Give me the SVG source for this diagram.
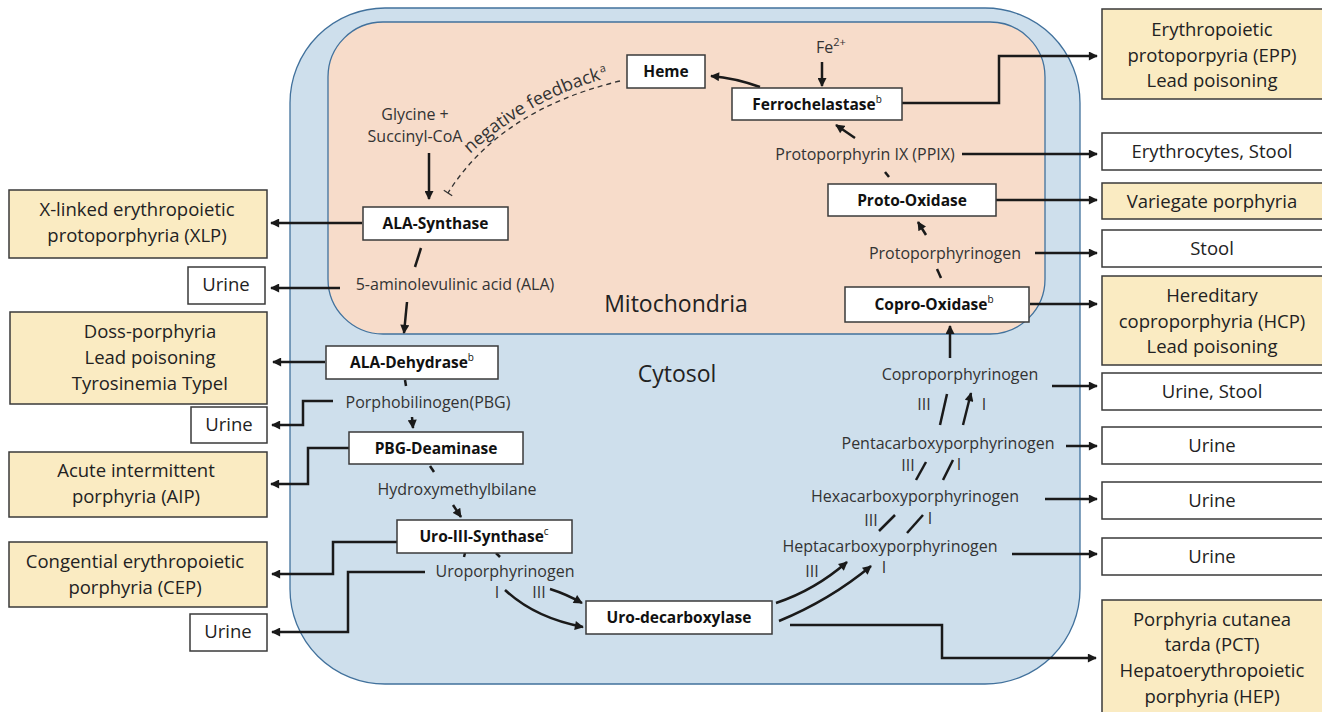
<svg xmlns="http://www.w3.org/2000/svg" width="1322" height="712" viewBox="0 0 1322 712">
<defs>
<style>
.box{fill:#ffffff;stroke:#3a3a3a;stroke-width:1.5}
.ybox{fill:#FAEBC2;stroke:#3a3a3a;stroke-width:1.5}
.node{font-family:"Open Sans","Liberation Sans",sans-serif;font-weight:bold;font-size:15.5px;fill:#111;text-anchor:middle}
.lbl{font-family:"Open Sans","Liberation Sans",sans-serif;font-size:16px;fill:#333;text-anchor:middle}
.out{font-family:"Open Sans","Liberation Sans",sans-serif;font-size:18.5px;fill:#222;text-anchor:middle}
.big{font-family:"Open Sans","Liberation Sans",sans-serif;font-size:23px;fill:#222;text-anchor:middle}
.c{fill:none;stroke:#1a1a1a;stroke-width:2.5}
.a{marker-end:url(#ah)}
.dash{fill:none;stroke:#333;stroke-width:1.3;stroke-dasharray:5 4}
</style>
<marker id="ah" viewBox="0 0 10 10" refX="9" refY="5" markerWidth="10" markerHeight="9" markerUnits="userSpaceOnUse" orient="auto">
<path d="M0,0 L10,5 L0,10 z" fill="#1a1a1a"/>
</marker>
<path id="nfp" d="M470,154 Q535,95 612,77" fill="none"/>
</defs>

<g id="compartments">
<rect id="cytosol" x="290" y="8" width="790" height="676" rx="95" fill="#CEDFEC" stroke="#41719C" stroke-width="1.3"/>
<rect id="mitochondria" x="328" y="22" width="717" height="312" rx="55" fill="#F7DCCA" stroke="#41719C" stroke-width="1.3"/>
<text class="big" x="676" y="312">Mitochondria</text>
<text class="big" x="677" y="382">Cytosol</text>
</g>

<g id="connectors">
<path class="c a" d="M429,153 V199"/>
<path class="dash" d="M620,81 Q500,110 448,193"/>
<path fill="none" stroke="#333" stroke-width="1.3" d="M443.8,190.3 L452.2,195.7"/>
<path class="c" d="M421,248 L415,267"/>
<path class="c a" d="M407,302 L404,333"/>
<path class="c a" d="M362,223 H271"/>
<path class="c a" d="M340,288 H271"/>
<path class="c a" d="M325,362 H273"/>
<path class="c" d="M405,380 L406,386"/>
<path class="c a" d="M333,401 H303 V425 H272"/>
<path class="c a" d="M412,417 L413,428"/>
<path class="c a" d="M349,448 H308 V484 H271"/>
<path class="c" d="M430,466 L434,472"/>
<path class="c a" d="M453,505 L461,517"/>
<path class="c a" d="M397,542 H333 V574 H272"/>
<path class="c a" d="M425,572 H348 V632 H272"/>
<path class="c" d="M465,553 L464,557"/>
<path class="c" d="M496,553 L500,557"/>
<path class="c a" d="M505,590 Q535,618 583,627"/>
<path class="c a" d="M550,589 Q566,594 582,603"/>
<path class="c a" d="M776,603 Q815,590 847,562"/>
<path class="c a" d="M779,621 Q830,600 871,566"/>
<path class="c a" d="M790,625 H942 V658 H1096"/>
<path class="c a" d="M1012,554 H1097"/>
<path class="c a" d="M1045,499 H1097"/>
<path class="c a" d="M1066,446 H1097"/>
<path class="c a" d="M1052,386 H1097"/>
<path class="c a" d="M1030,304 H1097"/>
<path class="c a" d="M1035,253 H1097"/>
<path class="c a" d="M996,200 H1097"/>
<path class="c a" d="M962,154 H1097"/>
<path class="c a" d="M902,103 H999 V56 H1097"/>
<path class="c a" d="M822,62 V86"/>
<path class="c a" d="M760,87 Q735,78 711,76"/>
<path class="c a" d="M855,138 L836,125"/>
<path class="c" d="M885,172 L889,177"/>
<path class="c a" d="M926,235 L918,222"/>
<path class="c" d="M937,269 L941,278"/>
<path class="c a" d="M950,358 V326"/>
<path class="c" d="M940,425 L947,394"/>
<path class="c a" d="M963,425 L971,393"/>
<path class="c" d="M916,480 L926,462"/>
<path class="c" d="M943,480 L953,460"/>
<path class="c" d="M879,531 L895,515"/>
<path class="c" d="M907,533 L923,515"/>
</g>

<g id="labels">
<text class="lbl" x="415" y="120">Glycine +</text>
<text class="lbl" x="415" y="142">Succinyl-CoA</text>
<text font-family="Open Sans, Liberation Sans, sans-serif" font-size="18" fill="#333"><textPath href="#nfp">negative feedback<tspan font-size="11" dx="1" baseline-shift="super">a</tspan></textPath></text>
<text class="lbl" x="455" y="290">5-aminolevulinic acid (ALA)</text>
<text class="lbl" x="428" y="408">Porphobilinogen(PBG)</text>
<text class="lbl" x="457" y="495">Hydroxymethylbilane</text>
<text class="lbl" x="505" y="577">Uroporphyrinogen</text>
<text class="lbl" x="497" y="598" font-size="15">I</text>
<text class="lbl" x="539" y="598" font-size="15">III</text>
<text class="lbl" x="831" y="53">Fe<tspan font-size="11" baseline-shift="super">2+</tspan></text>
<text class="lbl" x="865" y="160">Protoporphyrin IX (PPIX)</text>
<text class="lbl" x="945" y="259">Protoporphyrinogen</text>
<text class="lbl" x="960" y="380">Coproporphyrinogen</text>
<text class="lbl" x="924" y="410" font-size="15">III</text>
<text class="lbl" x="984" y="410" font-size="15">I</text>
<text class="lbl" x="948" y="449">Pentacarboxyporphyrinogen</text>
<text class="lbl" x="908" y="471" font-size="15">III</text>
<text class="lbl" x="959" y="470" font-size="15">I</text>
<text class="lbl" x="915" y="502">Hexacarboxyporphyrinogen</text>
<text class="lbl" x="871" y="526" font-size="15">III</text>
<text class="lbl" x="930" y="524" font-size="15">I</text>
<text class="lbl" x="890" y="552">Heptacarboxyporphyrinogen</text>
<text class="lbl" x="812" y="577" font-size="15">III</text>
<text class="lbl" x="884" y="573" font-size="15">I</text>
</g>

<g id="node-heme"><rect class="box" x="627" y="55" width="78" height="33"/><text class="node" x="666" y="77">Heme</text></g>
<g id="node-ferrochelatase"><rect class="box" x="732" y="88" width="170" height="32"/><text class="node" x="817" y="109.5">Ferrochelastase<tspan font-size="10" font-weight="normal" baseline-shift="super">b</tspan></text></g>
<g id="node-ala-synthase"><rect class="box" x="363" y="207" width="145" height="33"/><text class="node" x="435.5" y="229">ALA-Synthase</text></g>
<g id="node-proto-oxidase"><rect class="box" x="828" y="184" width="168" height="32"/><text class="node" x="912" y="205.5">Proto-Oxidase</text></g>
<g id="node-copro-oxidase"><rect class="box" x="845" y="287" width="184" height="35"/><text class="node" x="934" y="310">Copro-Oxidase<tspan font-size="10" font-weight="normal" baseline-shift="super">b</tspan></text></g>
<g id="node-ala-dehydrase"><rect class="box" x="326" y="346" width="172" height="33"/><text class="node" x="412" y="368">ALA-Dehydrase<tspan font-size="10" font-weight="normal" baseline-shift="super">b</tspan></text></g>
<g id="node-pbg-deaminase"><rect class="box" x="349" y="432" width="174" height="32"/><text class="node" x="436" y="453.5">PBG-Deaminase</text></g>
<g id="node-uro-iii-synthase"><rect class="box" x="397" y="520" width="175" height="33"/><text class="node" x="484" y="542">Uro-III-Synthase<tspan font-size="10" font-weight="normal" baseline-shift="super">c</tspan></text></g>
<g id="node-uro-decarboxylase"><rect class="box" x="586" y="601" width="186" height="33"/><text class="node" x="679" y="623">Uro-decarboxylase</text></g>

<g id="out-xlp"><rect class="ybox" x="9" y="190" width="258" height="68"/><text class="out" x="137" y="216">X-linked erythropoietic</text><text class="out" x="137" y="242">protoporphyria (XLP)</text></g>
<g id="out-urine-ala"><rect class="box" x="188" y="267" width="77" height="37"/><text class="out" x="226" y="291">Urine</text></g>
<g id="out-doss"><rect class="ybox" x="10" y="312" width="257" height="92"/><text class="out" x="150" y="338">Doss-porphyria</text><text class="out" x="150" y="364">Lead poisoning</text><text class="out" x="150" y="390">Tyrosinemia TypeI</text></g>
<g id="out-urine-pbg"><rect class="box" x="191" y="407" width="76" height="36"/><text class="out" x="229" y="431">Urine</text></g>
<g id="out-aip"><rect class="ybox" x="9" y="452" width="258" height="65"/><text class="out" x="136" y="477">Acute intermittent</text><text class="out" x="136" y="503">porphyria (AIP)</text></g>
<g id="out-cep"><rect class="ybox" x="9" y="542" width="258" height="65"/><text class="out" x="135" y="568">Congential erythropoietic</text><text class="out" x="135" y="594">porphyria (CEP)</text></g>
<g id="out-urine-uro"><rect class="box" x="190" y="614" width="77" height="37"/><text class="out" x="228" y="638">Urine</text></g>

<g id="out-epp"><rect class="ybox" x="1102" y="9" width="222" height="90"/><text class="out" x="1212" y="36">Erythropoietic</text><text class="out" x="1212" y="62">protoporpyria (EPP)</text><text class="out" x="1212" y="87">Lead poisoning</text></g>
<g id="out-erythrocytes"><rect class="box" x="1102" y="133" width="222" height="37"/><text class="out" x="1212" y="158">Erythrocytes, Stool</text></g>
<g id="out-variegate"><rect class="ybox" x="1102" y="183" width="222" height="36"/><text class="out" x="1212" y="208">Variegate porphyria</text></g>
<g id="out-stool"><rect class="box" x="1102" y="230" width="222" height="37"/><text class="out" x="1212" y="255">Stool</text></g>
<g id="out-hcp"><rect class="ybox" x="1102" y="276" width="222" height="89"/><text class="out" x="1212" y="302">Hereditary</text><text class="out" x="1212" y="328">coproporphyria (HCP)</text><text class="out" x="1212" y="353">Lead poisoning</text></g>
<g id="out-urine-stool"><rect class="box" x="1102" y="373" width="222" height="37"/><text class="out" x="1212" y="398">Urine, Stool</text></g>
<g id="out-urine-penta"><rect class="box" x="1102" y="427" width="222" height="37"/><text class="out" x="1212" y="452">Urine</text></g>
<g id="out-urine-hexa"><rect class="box" x="1102" y="482" width="222" height="37"/><text class="out" x="1212" y="507">Urine</text></g>
<g id="out-urine-hepta"><rect class="box" x="1102" y="538" width="222" height="37"/><text class="out" x="1212" y="563">Urine</text></g>
<g id="out-pct"><rect class="ybox" x="1102" y="600" width="222" height="116"/><text class="out" x="1212" y="626">Porphyria cutanea</text><text class="out" x="1212" y="651">tarda (PCT)</text><text class="out" x="1212" y="677">Hepatoerythropoietic</text><text class="out" x="1212" y="703">porphyria (HEP)</text></g>
</svg>
